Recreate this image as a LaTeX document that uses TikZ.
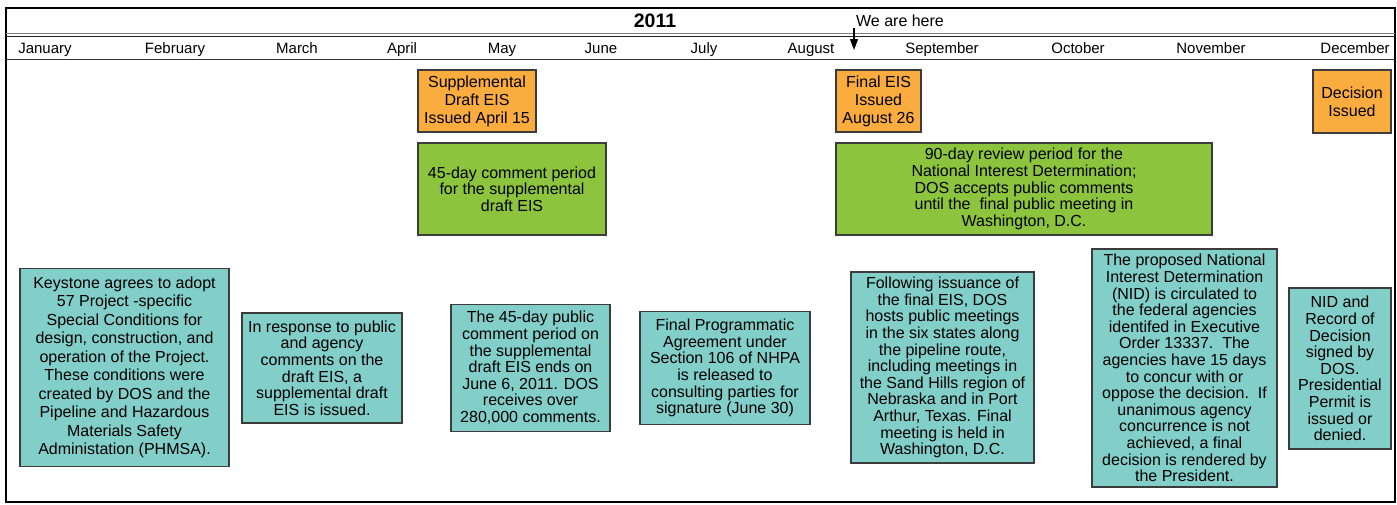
\documentclass[tikz,border=0pt]{standalone}
\usepackage{fontspec}
\setmainfont{Liberation Sans}
\usetikzlibrary{arrows.meta}
\definecolor{evorange}{RGB}{250,172,62}
\definecolor{evgreen}{RGB}{140,196,62}
\definecolor{evteal}{RGB}{130,206,200}
\definecolor{evborder}{RGB}{60,60,60}
\tikzset{
  box/.style={draw=evborder, line width=1.3pt, inner sep=0pt, align=center, text=black},
  orangebox/.style={box, fill=evorange, font=\fontsize{16}{18}\selectfont},
  greenbox/.style={box, fill=evgreen, font=\fontsize{16}{16.6}\selectfont},
  tealbox/.style={box, fill=evteal, font=\fontsize{16}{16.6}\selectfont},
  month/.style={font=\fontsize{15}{17}\selectfont, inner sep=0pt, anchor=base},
}
\begin{document}
\begin{tikzpicture}[x=1pt,y=-1pt]
\useasboundingbox (0,0) rectangle (1397,504);
% frame
\draw[line width=2.2pt] (6,8) rectangle (1395,502);
% header lines
\draw[line width=1pt, gray] (6,33.5) -- (1395,33.5);
\draw[line width=1pt, black!85] (6,36) -- (1395,36);
\draw[line width=1pt, black!80] (6,59) -- (1395,59);
% title
\node[font=\bfseries\fontsize{19.5}{21}\selectfont, inner sep=0pt] (year) at (655,21) {2011};
\node[font=\fontsize{16}{18}\selectfont, inner sep=0pt] (here) at (900,21) {We are here};
\coordinate (arrtop) at (854,28);
\coordinate (arrbot) at (854,50);
\draw[line width=1.2pt, -{Triangle[length=11pt,width=8pt]}] (arrtop) -- (arrbot);
% months
\node[month] (jan) at (45,53) {January};
\node[month] (feb) at (175,53) {February};
\node[month] (mar) at (297,53) {March};
\node[month] (apr) at (402,53) {April};
\node[month] (may) at (502,53) {May};
\node[month] (jun) at (601,53) {June};
\node[month] (jul) at (704,53) {July};
\node[month] (aug) at (811,53) {August};
\node[month] (sep) at (942,53) {September};
\node[month] (oct) at (1078,53) {October};
\node[month] (nov) at (1211,53) {November};
\node[month] (decm) at (1355,53) {December};
% orange boxes
\node[orangebox, minimum width=118pt, minimum height=62pt] (sdeis) at (477,101)
  {Supplemental\\Draft EIS\\Issued April 15};
\node[orangebox, minimum width=85pt, minimum height=62pt] (feis) at (878.5,101)
  {Final EIS\\Issued\\August 26};
\node[orangebox, minimum width=78pt, minimum height=63pt] (dec) at (1352,101.5)
  {Decision\\Issued};
% green boxes
\node[greenbox, minimum width=188pt, minimum height=92pt] (c45) at (512,189)
  {45-day comment period\\for the supplemental\\draft EIS};
\node[greenbox, minimum width=376pt, minimum height=92pt] (r90) at (1024,189)
  {90-day review period for the\\National Interest Determination;\\DOS accepts public comments\\until the\ \ final public meeting in\\Washington, D.C.};
% teal boxes
\node[tealbox, font=\fontsize{16}{18.5}\selectfont, minimum width=209pt, minimum height=198pt] (keystone) at (124.5,367.5)
  {Keystone agrees to adopt\\57 Project -specific\\Special Conditions for\\design, construction, and\\operation of the Project.\\These conditions were\\created by DOS and the\\Pipeline and Hazardous\\Materials Safety\\Administation (PHMSA).};
\node[tealbox, minimum width=160pt, minimum height=110pt] (resp) at (322,368)
  {In response to public\\and agency\\comments on the\\draft EIS, a\\supplemental draft\\EIS is issued.};
\node[tealbox, minimum width=159pt, minimum height=127pt] (ends) at (530.5,368)
  {The 45-day public\\comment period on\\the supplemental\\draft EIS ends on\\June 6, 2011. DOS\\receives over\\280,000 comments.};
\node[tealbox, minimum width=170pt, minimum height=113pt] (fpa) at (725,368)
  {Final Programmatic\\Agreement under\\Section 106 of NHPA\\is released to\\consulting parties for\\signature (June 30)};
\node[tealbox, minimum width=183pt, minimum height=191pt] (meet) at (942.5,367.5)
  {Following issuance of\\the final EIS, DOS\\hosts public meetings\\in the six states along\\the pipeline route,\\including meetings in\\the Sand Hills region of\\Nebraska and in Port\\Arthur, Texas. Final\\meeting is held in\\Washington, D.C.};
\node[tealbox, minimum width=185pt, minimum height=238pt] (nid) at (1184.5,368)
  {The proposed National\\Interest Determination\\(NID) is circulated to\\the federal agencies\\identifed in Executive\\Order 13337.\ \ The\\agencies have 15 days\\to concur with or\\oppose the decision.\ \ If\\unanimous agency\\concurrence is not\\achieved, a final\\decision is rendered by\\the President.};
\node[tealbox, minimum width=102pt, minimum height=161pt] (rod) at (1340,368.5)
  {NID and\\Record of\\Decision\\signed by\\DOS.\\Presidential\\Permit is\\issued or\\denied.};
\end{tikzpicture}
\end{document}
